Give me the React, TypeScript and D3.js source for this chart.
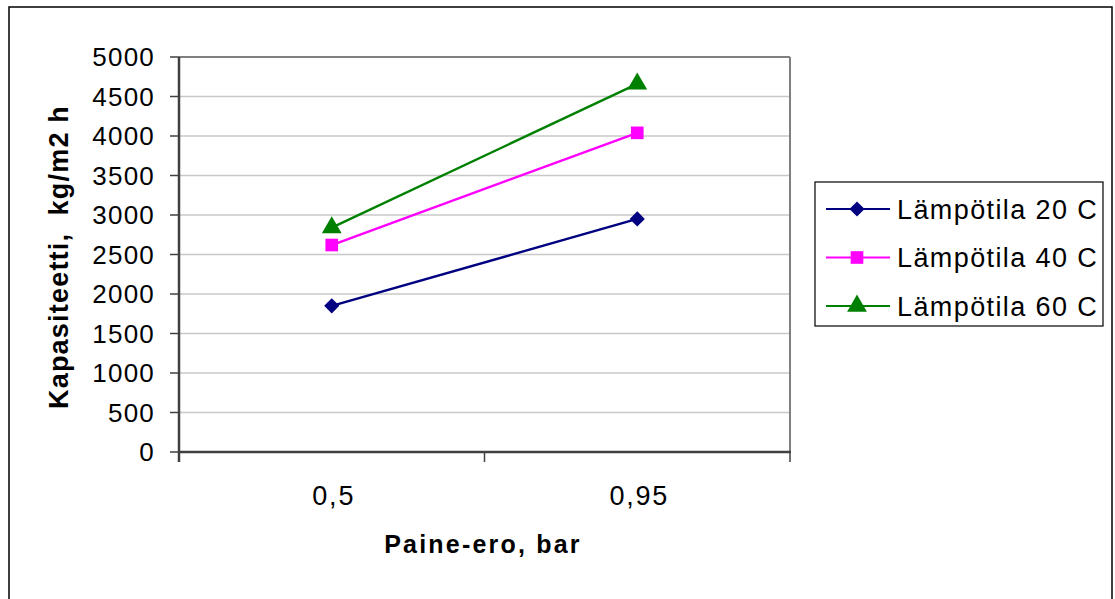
import * as d3 from 'd3'
import React, { useEffect, useRef } from 'react'

const categories = ['0,5', '0,95']
const seriesNames = ['Lämpötila 20 C', 'Lämpötila 40 C', 'Lämpötila 60 C']
const temp20 = [1850, 2950]
const temp40 = [2620, 4040]
const temp60 = [2840, 4660]
const yTicks = [0, 500, 1000, 1500, 2000, 2500, 3000, 3500, 4000, 4500, 5000]

const colors = ['#000080', '#ff00ff', '#008000']
const markers = [d3.symbolSquare, d3.symbolSquare, d3.symbolTriangle]
const markerSizes = [115, 160, 170]
const markerRotate = [45, 0, 0]

const W = 1115
const H = 599
const FONT = '"Liberation Sans", Arial, sans-serif'

function App () {
  const ref = useRef<SVGSVGElement>(null)

  useEffect(() => {
    const svg = d3.select(ref.current)
    svg.selectAll('*').remove()

    const plot = { left: 179, right: 790, top: 57, bottom: 452 }
    const series = [temp20, temp40, temp60]

    const x = d3.scaleBand().domain(categories).range([plot.left, plot.right])
    const y = d3.scaleLinear().domain([0, 5000]).range([plot.bottom, plot.top])

    // outer border
    svg.append('rect')
      .attr('x', 9).attr('y', 7).attr('width', 1103).attr('height', 620)
      .attr('fill', '#fff').attr('stroke', '#000').attr('stroke-width', 1.5)

    // gridlines
    svg.append('g').selectAll('line').data(yTicks.filter(d => d > 0)).enter()
      .append('line')
      .attr('x1', plot.left).attr('x2', plot.right)
      .attr('y1', d => y(d)).attr('y2', d => y(d))
      .attr('stroke', d => d === 5000 ? '#808080' : '#c8c8c8')
      .attr('stroke-width', d => d === 5000 ? 2 : 1.5)

    // right border of plot
    svg.append('line')
      .attr('x1', plot.right).attr('x2', plot.right)
      .attr('y1', plot.top).attr('y2', plot.bottom)
      .attr('stroke', '#808080').attr('stroke-width', 2)

    // y axis
    const yAxis = svg.append('g')
    yAxis.append('line')
      .attr('x1', plot.left).attr('x2', plot.left)
      .attr('y1', plot.top).attr('y2', plot.bottom + 10)
      .attr('stroke', '#404040').attr('stroke-width', 2.5)
    yAxis.selectAll('line.tick').data(yTicks).enter()
      .append('line').attr('class', 'tick')
      .attr('x1', plot.left - 9).attr('x2', plot.left)
      .attr('y1', d => y(d)).attr('y2', d => y(d))
      .attr('stroke', '#404040').attr('stroke-width', 1.5)
    yAxis.selectAll('text').data(yTicks).enter()
      .append('text')
      .attr('x', plot.left - 24).attr('y', d => y(d))
      .attr('dy', '0.36em')
      .attr('text-anchor', 'end')
      .attr('font-family', FONT).attr('font-size', 26)
      .attr('letter-spacing', 1.2)
      .attr('fill', '#000')
      .text(d => d)

    // x axis
    const xAxis = svg.append('g')
    xAxis.append('line')
      .attr('x1', plot.left).attr('x2', plot.right + 1)
      .attr('y1', plot.bottom).attr('y2', plot.bottom)
      .attr('stroke', '#404040').attr('stroke-width', 2.5)
    const bounds = [plot.left, ...categories.map(c => (x(c) as number) + x.bandwidth())]
    xAxis.selectAll('line.tick').data(bounds).enter()
      .append('line').attr('class', 'tick')
      .attr('x1', d => d).attr('x2', d => d)
      .attr('y1', plot.bottom).attr('y2', plot.bottom + 10)
      .attr('stroke', '#404040').attr('stroke-width', 1.5)
    xAxis.selectAll('text').data(categories).enter()
      .append('text')
      .attr('x', d => (x(d) as number) + x.bandwidth() / 2 + 2)
      .attr('y', 505)
      .attr('text-anchor', 'middle')
      .attr('font-family', FONT).attr('font-size', 27)
      .attr('letter-spacing', 1.8)
      .attr('fill', '#000')
      .text(d => d)

    // axis titles
    svg.append('text')
      .attr('x', 483).attr('y', 553)
      .attr('text-anchor', 'middle')
      .attr('font-family', FONT).attr('font-size', 25).attr('font-weight', 'bold')
      .attr('letter-spacing', 2.2)
      .text('Paine-ero, bar')
    svg.append('text')
      .attr('transform', 'translate(68,257) rotate(-90)')
      .attr('text-anchor', 'middle')
      .attr('font-family', FONT).attr('font-size', 27).attr('font-weight', 'bold')
      .attr('letter-spacing', 1.2)
      .attr('xml:space', 'preserve')
      .text('Kapasiteetti,  kg/m2 h')

    // series
    const line = d3.line<number>()
      .x((d, i) => (x(categories[i]) as number) + x.bandwidth() / 2)
      .y(d => y(d))

    const symbolPath = (s: number) => d3.symbol().type(markers[s]).size(markerSizes[s])()

    series.forEach((vals, s) => {
      const g = svg.append('g')
      g.append('path')
        .attr('d', line(vals))
        .attr('fill', 'none')
        .attr('stroke', colors[s]).attr('stroke-width', 2.4)
      g.selectAll('path.marker').data(vals).enter()
        .append('path').attr('class', 'marker')
        .attr('d', symbolPath(s))
        .attr('transform', (d, i) => `translate(${(x(categories[i]) as number) + x.bandwidth() / 2},${y(d)}) rotate(${markerRotate[s]})`)
        .attr('fill', colors[s])
    })

    // legend
    const legend = svg.append('g')
    legend.append('rect')
      .attr('x', 815).attr('y', 182).attr('width', 288).attr('height', 144)
      .attr('fill', '#fff').attr('stroke', '#000').attr('stroke-width', 1.2)
    const ly = d3.scalePoint().domain(seriesNames).range([209, 306])
    seriesNames.forEach((name, s) => {
      const yy = ly(name) as number
      legend.append('line')
        .attr('x1', 826).attr('x2', 890).attr('y1', yy).attr('y2', yy)
        .attr('stroke', colors[s]).attr('stroke-width', 2)
      legend.append('path')
        .attr('d', symbolPath(s))
        .attr('transform', `translate(857,${yy}) rotate(${markerRotate[s]})`)
        .attr('fill', colors[s])
      legend.append('text')
        .attr('x', 897).attr('y', yy).attr('dy', '0.36em')
        .attr('font-family', FONT).attr('font-size', 27)
        .attr('letter-spacing', 1.4)
        .text(name)
    })
  }, [])

  return (
    <svg
      ref={ref}
      width={W}
      height={H}
      viewBox={`0 0 ${W} ${H}`}
      style={{ position: 'absolute', left: 0, top: 0, display: 'block', background: '#fff' }}
    />
  )
}

export default App
